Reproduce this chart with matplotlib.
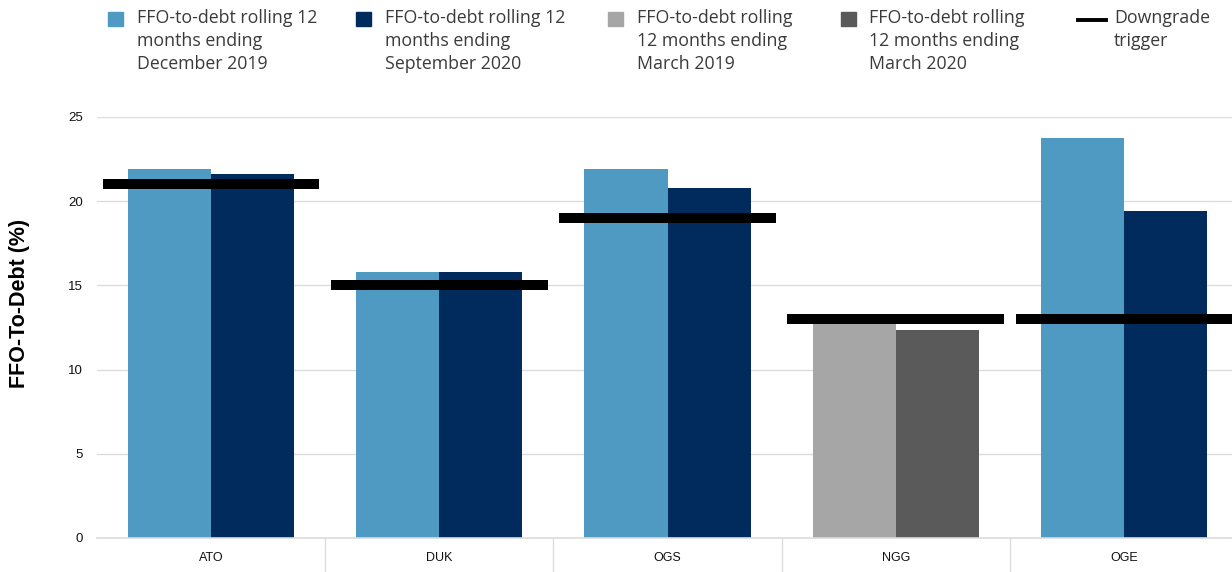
import matplotlib
matplotlib.use("Agg")
import matplotlib.pyplot as plt
from matplotlib.patches import Rectangle
from matplotlib.lines import Line2D
import numpy as np

categories = ["ATO", "DUK", "OGS", "NGG", "OGE"]
dec2019 = [21.9, 15.8, 21.9, np.nan, 23.75]
sep2020 = [21.6, 15.8, 20.8, np.nan, 19.4]
mar2019 = [np.nan, np.nan, np.nan, 12.9, np.nan]
mar2020 = [np.nan, np.nan, np.nan, 12.35, np.nan]
trigger = [21, 15, 19, 13, 13]
yticks = [0, 5, 10, 15, 20, 25]

legend_labels = [
    "FFO-to-debt rolling 12\nmonths ending\nDecember 2019",
    "FFO-to-debt rolling 12\nmonths ending\nSeptember 2020",
    "FFO-to-debt rolling\n12 months ending\nMarch 2019",
    "FFO-to-debt rolling\n12 months ending\nMarch 2020",
    "Downgrade\ntrigger",
]

c_light = "#4F9AC2"
c_dark = "#002B5C"
c_lgray = "#A6A6A6"
c_dgray = "#5A5A5A"
grid_c = "#DCDCDC"

plt.rcParams['font.family'] = ['Liberation Sans', 'DejaVu Sans']

W, H = 1232, 572
fig = plt.figure(figsize=(W / 100, H / 100), dpi=100)
left_px, right_px, bot_px, top_px = 97, 1238, 538, 117
ax = fig.add_axes([left_px / W, (H - bot_px) / H, (right_px - left_px) / W, (bot_px - top_px) / H])

x = np.arange(len(categories))
w = 0.364
ax.bar(x - w / 2, dec2019, w, color=c_light, zorder=2)
ax.bar(x + w / 2, sep2020, w, color=c_dark, zorder=2)
ax.bar(x - w / 2, mar2019, w, color=c_lgray, zorder=2)
ax.bar(x + w / 2, mar2020, w, color=c_dgray, zorder=2)
ax.hlines(trigger, x - 0.475, x + 0.475, colors="black", linewidth=7.2, zorder=3, capstyle='butt')

ax.set_xlim(-0.5, len(categories) - 0.5)
ax.set_ylim(0, 25)
ax.set_yticks(yticks)
ax.grid(axis='y', color=grid_c, linewidth=1, zorder=0)
for s in ["top", "right", "left"]:
    ax.spines[s].set_visible(False)
ax.spines["bottom"].set_color(grid_c)
ax.spines["bottom"].set_linewidth(1.2)
ax.set_xticks(x)
ax.set_xticklabels(categories)
ax.set_xticks(np.arange(0.5, len(categories) - 1, 1.0), minor=True)
ax.tick_params(axis='x', which='major', length=0, pad=10, labelsize=9, labelcolor="#111111")
ax.tick_params(axis='x', which='minor', length=26, width=1, color=grid_c)
ax.tick_params(axis='y', length=0, pad=10, labelsize=9.5, labelcolor="#111111")

fig.text(20 / W, (H - 303) / H, "FFO-To-Debt (%)", rotation=90, ha='center', va='center',
         fontsize=15.5, fontweight='bold', color="black")

# legend
handles_colors = [c_light, c_dark, c_lgray, c_dgray]
patch_x = [108, 356, 608, 841]
text_x = [137, 385, 637, 869, 1114]
for px, col in zip(patch_x, handles_colors):
    fig.patches.append(Rectangle((px / W, (H - 26) / H), 15 / W, 14 / H,
                                 transform=fig.transFigure, color=col, figure=fig))
fig.lines.append(Line2D([1078 / W, 1106 / W], [(H - 20) / H, (H - 20) / H],
                        transform=fig.transFigure, color="black", linewidth=2.8, figure=fig))
for tx, lab in zip(text_x, legend_labels):
    fig.text(tx / W, (H - 9) / H, lab, ha='left', va='top', fontsize=12.8,
             color="#3A3A3A", linespacing=1.36,
             family=['Open Sans', 'DejaVu Sans'])

fig.savefig("out.png", dpi=100)
